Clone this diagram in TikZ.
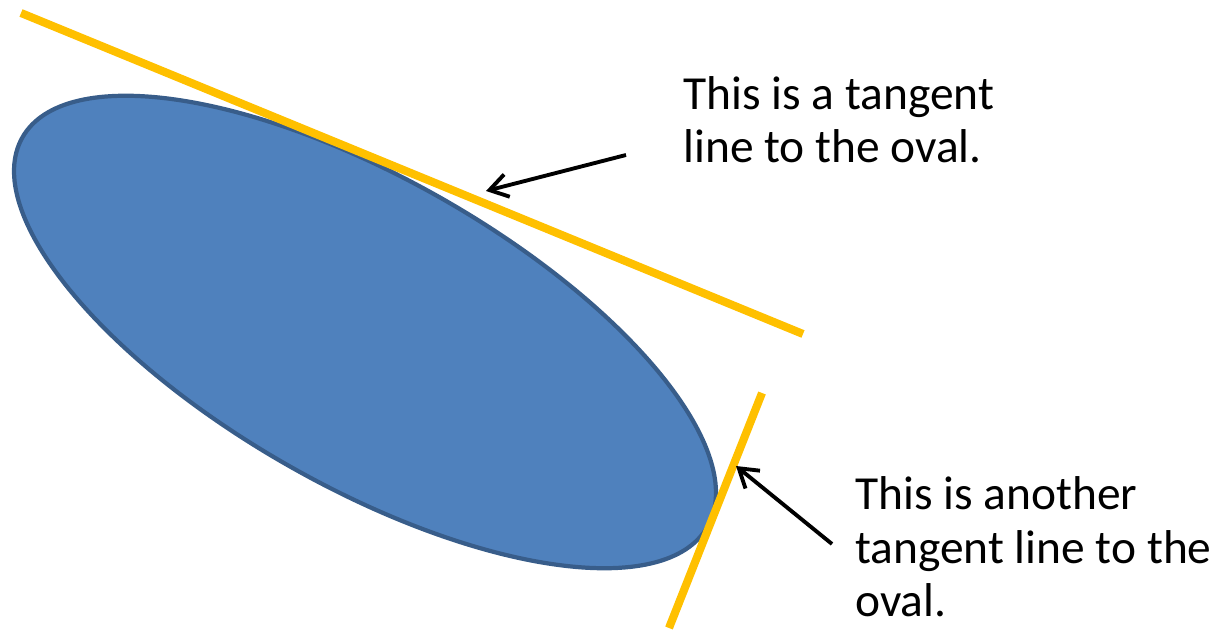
\documentclass[tikz,border=0pt]{standalone}
\usepackage{fontspec}
\setmainfont{Carlito}
\usepackage{tikz}
\usetikzlibrary{arrows.meta}
\definecolor{ovalblue}{RGB}{79,129,189}
\definecolor{ovaledge}{RGB}{56,93,138}
\definecolor{tangentgold}{RGB}{255,192,0}

\begin{document}
\begin{tikzpicture}[
    tangent/.style={tangentgold,line width=4.6pt},
    pointer/.style={line width=2.2pt,-{Straight Barb[length=3.6mm,width=4.6mm]}},
    note/.style={align=left,inner sep=0pt,anchor=base west,font=\fontsize{27}{30.6}\selectfont}
]
    \useasboundingbox (0,0) rectangle (24.42,12.76);

    % The oval
    \draw[fill=ovalblue,draw=ovaledge,line width=2.4pt,shift={(7.30,6.12)},rotate=-29.6]
        (0,0) ellipse [x radius=7.88, y radius=3.08];

    % Tangent lines
    \coordinate (t1a) at (0.42,12.50);
    \coordinate (t1b) at (16.06,6.08);
    \draw[tangent] (t1a) -- (t1b);
    \coordinate (t2a) at (15.24,4.90);
    \coordinate (t2b) at (13.38,0.20);
    \draw[tangent] (t2a) -- (t2b);

    % Labels (anchored at the last baseline)
    \node[note] (first) at (13.66,9.50) {This is a tangent\\line to the oval.};
    \node[note] (second) at (17.10,0.42) {This is another\\tangent line to the\\oval.};

    % Arrows
    \coordinate (tip1) at (9.72,8.94);
    \coordinate (tail1) at (12.52,9.66);
    \draw[pointer] (tail1) -- (tip1);
    \coordinate (tip2) at (14.72,3.44);
    \coordinate (tail2) at (16.64,1.88);
    \draw[pointer] (tail2) -- (tip2);
\end{tikzpicture}
\end{document}
